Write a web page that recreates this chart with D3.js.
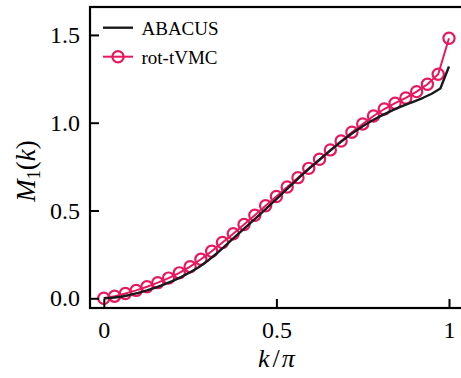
<!DOCTYPE html>
<html>
<head>
<meta charset="utf-8">
<script src="https://cdn.jsdelivr.net/npm/d3@7"></script>
<style>
  html, body { margin: 0; padding: 0; background: #fff; }
  svg { display: block; }
  text { font-family: "Liberation Serif", "DejaVu Serif", serif; fill: #000; }
</style>
</head>
<body>
<script>
// ---- data ----
const abacusK = [0, 0.025, 0.05, 0.075, 0.1, 0.125, 0.15, 0.175, 0.2, 0.225, 0.25, 0.275, 0.3, 0.325, 0.35, 0.375, 0.4, 0.425, 0.45, 0.475, 0.5, 0.525, 0.55, 0.575, 0.6, 0.625, 0.65, 0.675, 0.7, 0.725, 0.75, 0.775, 0.8, 0.825, 0.85, 0.875, 0.9, 0.925, 0.95, 0.975, 1.0];
const abacusM = [0, 0.003, 0.009, 0.019, 0.031, 0.045, 0.061, 0.079, 0.099, 0.122, 0.148, 0.177, 0.212, 0.252, 0.296, 0.341, 0.385, 0.429, 0.474, 0.519, 0.565, 0.612, 0.658, 0.704, 0.747, 0.789, 0.831, 0.872, 0.911, 0.947, 0.980, 1.010, 1.036, 1.060, 1.083, 1.103, 1.122, 1.142, 1.165, 1.195, 1.32];
const vmcK = [0, 0.03125, 0.0625, 0.09375, 0.125, 0.15625, 0.1875, 0.21875, 0.25, 0.28125, 0.3125, 0.34375, 0.375, 0.40625, 0.4375, 0.46875, 0.5, 0.53125, 0.5625, 0.59375, 0.625, 0.65625, 0.6875, 0.71875, 0.75, 0.78125, 0.8125, 0.84375, 0.875, 0.90625, 0.9375, 0.96875, 1.0];
const vmcM = [0, 0.012, 0.027, 0.045, 0.066, 0.089, 0.115, 0.145, 0.180, 0.222, 0.268, 0.318, 0.368, 0.420, 0.473, 0.527, 0.580, 0.634, 0.687, 0.740, 0.792, 0.845, 0.896, 0.946, 0.993, 1.038, 1.078, 1.111, 1.141, 1.177, 1.219, 1.276, 1.481];
const xTicks = [0, 0.5, 1];
const xTickLabels = ["0", "0.5", "1"];
const yTicks = [0, 0.5, 1.0, 1.5];
const yTickLabels = ["0.0", "0.5", "1.0", "1.5"];
const seriesNames = ["ABACUS", "rot-tVMC"];

const W = 461, H = 378;
const pink = "#e8185d", dark = "#1a1a1a";
const pLeft = 90, pRight = 462.8, pTop = 7, pBottom = 308;

const svg = d3.select("body").append("svg").attr("width", W).attr("height", H);

const x = d3.scaleLinear().domain([-0.04, 1.04]).range([pLeft, pRight]);
const y = d3.scaleLinear().domain([-0.0553, 1.659]).range([pBottom, pTop]);

// data
const line = d3.line().x(d => x(d[0])).y(d => y(d[1]));
const abacus = abacusK.map((k, i) => [k, abacusM[i]]);
const vmc = vmcK.map((k, i) => [k, vmcM[i]]);

svg.append("path").datum(vmc).attr("d", line)
  .attr("fill", "none").attr("stroke", pink).attr("stroke-width", 2);
svg.append("g").selectAll("circle").data(vmc).join("circle")
  .attr("cx", d => x(d[0])).attr("cy", d => y(d[1])).attr("r", 5.6)
  .attr("fill", "none").attr("stroke", pink).attr("stroke-width", 2.2);
svg.append("path").datum(abacus).attr("d", line)
  .attr("fill", "none").attr("stroke", dark).attr("stroke-width", 2.4)
  .attr("stroke-linejoin", "round");

// axes
const xAxis = d3.axisBottom(x).tickValues(xTicks).tickFormat((d, i) => xTickLabels[i])
  .tickSizeInner(-9).tickSizeOuter(0).tickPadding(13);
const gx = svg.append("g").attr("transform", `translate(0,${pBottom})`).call(xAxis);
gx.select(".domain").remove();
gx.selectAll(".tick line").attr("stroke", "#000").attr("stroke-width", 2);
gx.selectAll(".tick text").attr("font-size", 24).attr("font-family", "Liberation Serif").attr("dy", "0.71em");

const yAxis = d3.axisLeft(y).tickValues(yTicks).tickFormat((d, i) => yTickLabels[i])
  .tickSizeInner(-9).tickSizeOuter(0).tickPadding(10);
const gy = svg.append("g").attr("transform", `translate(${pLeft},0)`).call(yAxis);
gy.select(".domain").remove();
gy.selectAll(".tick line").attr("stroke", "#000").attr("stroke-width", 2);
gy.selectAll(".tick text").attr("font-size", 24).attr("font-family", "Liberation Serif");

// frame
svg.append("rect").attr("x", pLeft).attr("y", pTop).attr("width", pRight - pLeft).attr("height", pBottom - pTop)
  .attr("fill", "none").attr("stroke", "#000").attr("stroke-width", 2.2);

// labels
svg.append("text").attr("x", (x(0) + x(1)) / 2).attr("y", 367).attr("text-anchor", "middle")
  .attr("font-size", 26)
  .html('<tspan font-style="italic">k</tspan><tspan dx="3">/</tspan><tspan dx="2" font-style="italic">π</tspan>');

svg.append("text").attr("transform", `translate(35,171) rotate(-90)`)
  .attr("text-anchor", "middle").attr("font-size", 27)
  .html('<tspan font-style="italic">M</tspan><tspan font-size="18" dy="5">1</tspan><tspan dy="-5">(</tspan><tspan font-style="italic">k</tspan><tspan>)</tspan>');

// legend
const lg = svg.append("g");
lg.append("line").attr("x1", 103).attr("x2", 133).attr("y1", 27.7).attr("y2", 27.7)
  .attr("stroke", dark).attr("stroke-width", 2.4);
lg.append("text").attr("x", 141.5).attr("y", 34.5).attr("font-size", 19).text(seriesNames[0]);
lg.append("line").attr("x1", 103).attr("x2", 133).attr("y1", 56.7).attr("y2", 56.7)
  .attr("stroke", pink).attr("stroke-width", 2);
lg.append("circle").attr("cx", 118).attr("cy", 56.7).attr("r", 5.6)
  .attr("fill", "none").attr("stroke", pink).attr("stroke-width", 2.2);
lg.append("text").attr("x", 141.5).attr("y", 63.5).attr("font-size", 19).text(seriesNames[1]);
</script>
</body>
</html>
